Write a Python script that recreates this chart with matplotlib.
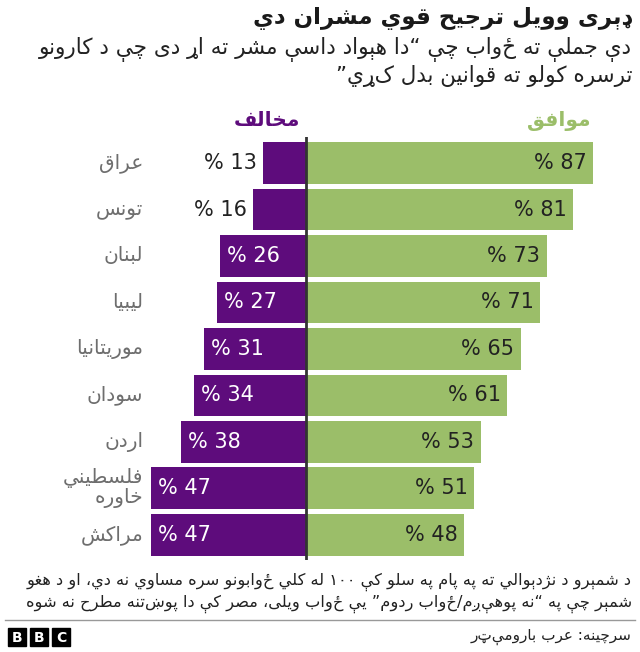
import matplotlib
matplotlib.use("Agg")
import matplotlib.pyplot as plt
from matplotlib.patches import Rectangle

# chart data
countries = ["عراق", "تونس", "لبنان", "لیبیا", "موریتانیا", "سودان", "اردن", "فلسطیني\nخاوره", "مراکش"]
agree = [87, 81, 73, 71, 65, 61, 53, 51, 48]
disagree = [13, 16, 26, 27, 31, 34, 38, 47, 47]

title = "ډېری وویل ترجیح قوي مشران دي"
subtitle = ["دې جملې ته ځواب چې “دا هېواد داسې مشر ته اړ دی چې د کارونو",
            "ترسره کولو ته قوانین بدل کړي”"]
legend_disagree = "مخالف"
legend_agree = "موافق"
footnote = ["د شمېرو د نژدېوالي ته په پام په سلو کې ۱۰۰ له کلي ځوابونو سره مساوي نه دي، او د هغو",
            "شمېر چې په “نه پوهېږم/ځواب ردوم” یې ځواب ویلی، مصر کې دا پوښتنه مطرح نه شوه"]
source = "سرچینه: عرب بارومېټر"

PURPLE = "#5e0c7c"
GREEN = "#9bbe69"

# --- small arabic shaper: matplotlib draws glyphs left to right with no shaping ---
FORMS = {
    "ئ": (0xFE89, 0xFE8A, 0xFE8B, 0xFE8C), "ب": (0xFE8F, 0xFE90, 0xFE91, 0xFE92),
    "ت": (0xFE95, 0xFE96, 0xFE97, 0xFE98), "ث": (0xFE99, 0xFE9A, 0xFE9B, 0xFE9C),
    "ج": (0xFE9D, 0xFE9E, 0xFE9F, 0xFEA0), "ح": (0xFEA1, 0xFEA2, 0xFEA3, 0xFEA4),
    "خ": (0xFEA5, 0xFEA6, 0xFEA7, 0xFEA8), "س": (0xFEB1, 0xFEB2, 0xFEB3, 0xFEB4),
    "ش": (0xFEB5, 0xFEB6, 0xFEB7, 0xFEB8), "ص": (0xFEB9, 0xFEBA, 0xFEBB, 0xFEBC),
    "ض": (0xFEBD, 0xFEBE, 0xFEBF, 0xFEC0), "ط": (0xFEC1, 0xFEC2, 0xFEC3, 0xFEC4),
    "ظ": (0xFEC5, 0xFEC6, 0xFEC7, 0xFEC8), "ع": (0xFEC9, 0xFECA, 0xFECB, 0xFECC),
    "غ": (0xFECD, 0xFECE, 0xFECF, 0xFED0), "ف": (0xFED1, 0xFED2, 0xFED3, 0xFED4),
    "ق": (0xFED5, 0xFED6, 0xFED7, 0xFED8), "ك": (0xFED9, 0xFEDA, 0xFEDB, 0xFEDC),
    "ل": (0xFEDD, 0xFEDE, 0xFEDF, 0xFEE0), "م": (0xFEE1, 0xFEE2, 0xFEE3, 0xFEE4),
    "ن": (0xFEE5, 0xFEE6, 0xFEE7, 0xFEE8), "ه": (0xFEE9, 0xFEEA, 0xFEEB, 0xFEEC),
    "ي": (0xFEF1, 0xFEF2, 0xFEF3, 0xFEF4), "پ": (0xFB56, 0xFB57, 0xFB58, 0xFB59),
    "چ": (0xFB7A, 0xFB7B, 0xFB7C, 0xFB7D), "ک": (0xFB8E, 0xFB8F, 0xFB90, 0xFB91),
    "گ": (0xFB92, 0xFB93, 0xFB94, 0xFB95), "ی": (0xFBFC, 0xFBFD, 0xFBFE, 0xFBFF),
    "ې": (0xFBE4, 0xFBE5, 0xFBE6, 0xFBE7),
    "آ": (0xFE81, 0xFE82), "أ": (0xFE83, 0xFE84), "ؤ": (0xFE85, 0xFE86),
    "إ": (0xFE87, 0xFE88), "ا": (0xFE8D, 0xFE8E), "ة": (0xFE93, 0xFE94),
    "د": (0xFEA9, 0xFEAA), "ذ": (0xFEAB, 0xFEAC), "ر": (0xFEAD, 0xFEAE),
    "ز": (0xFEAF, 0xFEB0), "و": (0xFEED, 0xFEEE), "ژ": (0xFB8A, 0xFB8B),
}
LAMALEF = {"ا": (0xFEFB, 0xFEFC), "آ": (0xFEF5, 0xFEF6), "أ": (0xFEF7, 0xFEF8), "إ": (0xFEF9, 0xFEFA)}


def shape(s):
    out = []
    n = len(s)

    def dual(c):
        return c in FORMS and len(FORMS[c]) == 4

    def joins_prev(i):
        return i > 0 and dual(s[i - 1]) and s[i] in FORMS

    def joins_next(i):
        return i + 1 < n and dual(s[i]) and s[i + 1] in FORMS

    i = 0
    while i < n:
        c = s[i]
        if c == "ل" and i + 1 < n and s[i + 1] in LAMALEF:
            lig = LAMALEF[s[i + 1]]
            out.append(chr(lig[1] if joins_prev(i) else lig[0]))
            i += 2
            continue
        if c in FORMS:
            f = FORMS[c]
            p, nx = joins_prev(i), joins_next(i)
            if len(f) == 2:
                out.append(chr(f[1] if p else f[0]))
            else:
                out.append(chr(f[3] if (p and nx) else f[1] if p else f[2] if nx else f[0]))
        else:
            out.append(c)
        i += 1
    return "".join(out)


def is_ltr(c):
    return c.isascii() and c.isalnum() or "\u0660" <= c <= "\u0669" or "\u06f0" <= c <= "\u06f9"


def rtl(s):
    # shape, then put in visual order (ltr runs such as numbers stay as they are)
    lines = []
    for line in s.split("\n"):
        t = shape(line)[::-1]
        res, run = "", ""
        for c in t:
            if is_ltr(c):
                run += c
            else:
                res += run[::-1] + c
                run = ""
        res += run[::-1]
        lines.append(res)
    return "\n".join(lines)


W, H = 640, 652
fig = plt.figure(figsize=(W / 100, H / 100), dpi=100)

# bars axes: 3.3 px per percent, zero line at x=306px
px = 3.3
zero = 306
left_px, width_px = 150, 450
ax = fig.add_axes([left_px / W, (H - 560) / H, width_px / W, 423 / H])
ax.set_xlim(-(zero - left_px) / px, (left_px + width_px - zero) / px)
ax.set_ylim(len(countries) - 1 + 0.54, -0.56)
ax.axis("off")

rows = list(range(len(countries)))
ax.barh(rows, agree, height=0.9, color=GREEN)
ax.barh(rows, [-v for v in disagree], height=0.9, color=PURPLE)
ax.axvline(0, color="#333333", lw=2)

for i in rows:
    ax.text(agree[i] - 2, i, "% " + str(agree[i]), ha="right", va="center",
            fontsize=15, color="#222222")
    d = disagree[i]
    if d < 20:
        ax.text(-d - 2, i, "% " + str(d), ha="right", va="center", fontsize=15, color="#222222")
    else:
        ax.text(-d + 2.2, i, "% " + str(d), ha="left", va="center", fontsize=15, color="white")
    ax.text(-(zero - 143) / px, i, rtl(countries[i]), ha="right", va="center",
            fontsize=14.5, color="#6e6e6e", linespacing=1.0)


def ftext(x, y, s, **kw):
    fig.text(x / W, 1 - y / H, s, **kw)


ftext(632, 19, rtl(title), ha="right", va="center", fontsize=16.5, fontweight="bold", color="#1a1a1a")
ftext(632, 50, rtl(subtitle[0]), ha="right", va="center", fontsize=15.5, color="#222222")
ftext(632, 76, rtl(subtitle[1]), ha="right", va="center", fontsize=15.5, color="#222222")
ftext(300, 121, rtl(legend_disagree), ha="right", va="center", fontsize=14.5, fontweight="bold", color=PURPLE)
ftext(591, 121, rtl(legend_agree), ha="right", va="center", fontsize=14.5, fontweight="bold", color=GREEN)
ftext(632, 582, rtl(footnote[0]), ha="right", va="center", fontsize=11.7, color="#222222")
ftext(632, 604, rtl(footnote[1]), ha="right", va="center", fontsize=11.7, color="#222222")
ftext(632, 637, rtl(source), ha="right", va="center", fontsize=11, color="#222222")

# divider and logo
fig.add_artist(plt.Line2D([5 / W, 635 / W], [1 - 620 / H, 1 - 620 / H], color="#999999", lw=1))
for k, letter in enumerate("BBC"):
    lx = 8 + k * 22
    fig.add_artist(Rectangle((lx / W, 1 - 646 / H), 18 / W, 18 / H, color="black"))
    ftext(lx + 9, 637.5, letter, ha="center", va="center", fontsize=10, fontweight="bold", color="white")

fig.savefig("out.png", dpi=100)
